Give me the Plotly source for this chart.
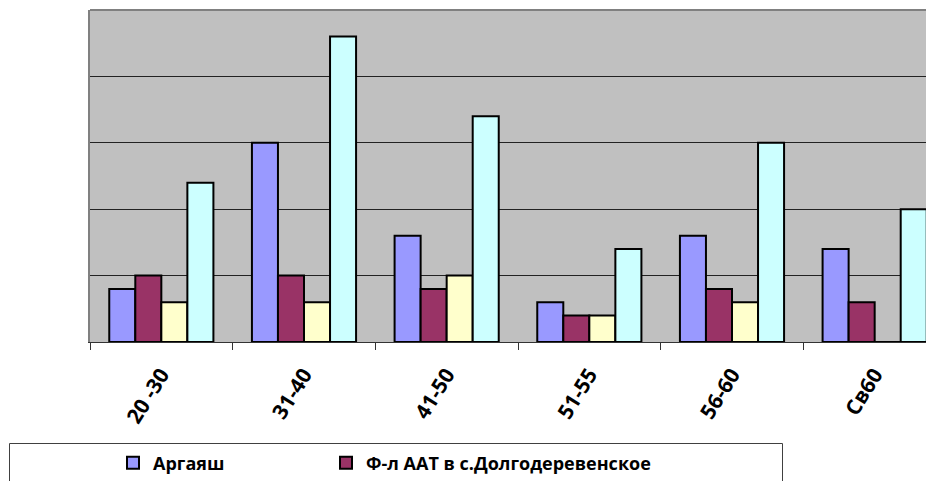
import plotly.graph_objects as go

categories = ["20 -30", "31-40", "41-50", "51-55", "56-60", "Св60"]
series_names = ["Аргаяш", "Ф-л ААТ в с.Долгодеревенское", "Ряд3", "Ряд4"]
argayash = [4, 15, 8, 3, 8, 7]
dolgoderevenskoe = [5, 5, 4, 2, 4, 3]
series3 = [3, 3, 5, 2, 3, 0]
series4 = [12, 23, 17, 7, 15, 10]
colors = ["#9999FF", "#993366", "#FFFFCC", "#CCFFFF"]

# page body has an 8px margin; figure is laid out to compensate
OFF = 8
W, H = 938, 481
ML, MR, MT, MB = 82, 0, 2, 147
PW = W - ML - MR
PH = H - MT - MB

def sx(px):  # screen x pixel -> paper x
    return (px - OFF - ML) / PW

def sy(py):  # screen y pixel -> paper y
    return (H - MB - (py - OFF)) / PH

fig = go.Figure()
all_series = [argayash, dolgoderevenskoe, series3, series4]
legends = ["legend", "legend", "legend2", "legend2"]
legend_widths = [168, None, 168, None]
for name, vals, col, lg, lw in zip(series_names, all_series, colors, legends, legend_widths):
    tr = go.Bar(
        x=categories, y=vals, name=name,
        marker=dict(color=col, line=dict(color="#000000", width=2)),
        legend=lg,
    )
    if lw:
        tr.legendwidth = lw
    fig.add_trace(tr)

font_family = "'Open Sans', sans-serif"
legend_font = dict(family=font_family, size=18, weight="bold", color="#000000")

fig.update_layout(
    width=W, height=H,
    margin=dict(l=ML, r=MR, t=MT, b=MB, autoexpand=False),
    paper_bgcolor="#FFFFFF",
    plot_bgcolor="#C0C0C0",
    barmode="group",
    bargap=0.27,
    bargroupgap=0,
    font=dict(family=font_family, color="#000000"),
    xaxis=dict(
        type="category",
        range=[-0.5, 5.5],
        tickson="boundaries",
        ticks="outside", ticklen=7, tickcolor="#333333", tickwidth=1,
        showline=True, linecolor="#333333", linewidth=1,
        showgrid=False,
        tickangle=-58,
        ticklabelstandoff=11,
        tickfont=dict(family=font_family, size=21, weight="bold", color="#000000"),
    ),
    yaxis=dict(
        range=[0, 25], dtick=5,
        showticklabels=False,
        showgrid=True, gridcolor="#222222", gridwidth=1,
        zeroline=False,
        showline=True, linecolor="#808080", linewidth=2,
        ticks="",
    ),
    legend=dict(
        orientation="h",
        xref="paper", yref="paper",
        x=sx(113), y=sy(463),
        xanchor="left", yanchor="middle",
        bgcolor="rgba(0,0,0,0)", borderwidth=0,
        font=legend_font,
        itemclick=False,
    ),
    legend2=dict(
        orientation="h",
        xref="paper", yref="paper",
        x=sx(113), y=sy(500),
        xanchor="left", yanchor="top",
        bgcolor="rgba(0,0,0,0)", borderwidth=0,
        font=legend_font,
    ),
    showlegend=True,
    shapes=[
        dict(type="line", xref="paper", yref="paper", x0=0, x1=1, y0=1, y1=1,
             line=dict(color="#808080", width=2)),
        dict(type="rect", xref="paper", yref="paper",
             x0=sx(9.5), x1=sx(782.5),
             y0=sy(443.5), y1=sy(540),
             line=dict(color="#404040", width=1), fillcolor="rgba(0,0,0,0)"),
    ],
)

fig.write_html("out.html")
